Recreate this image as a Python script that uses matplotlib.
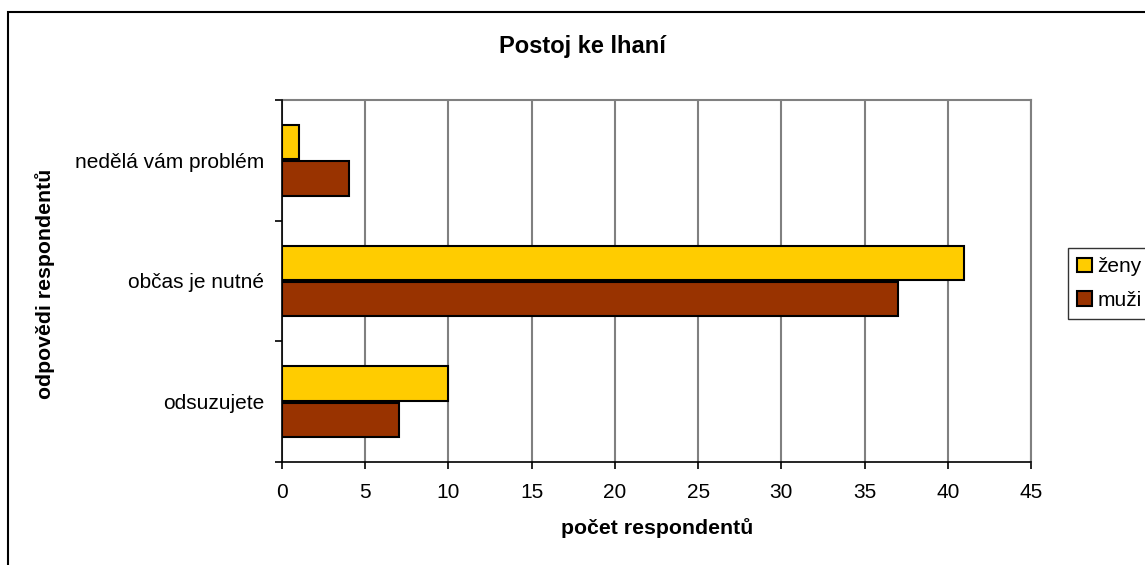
import numpy as np
import matplotlib
matplotlib.use('agg')
import matplotlib.pyplot as plt
from matplotlib.patches import Rectangle

categories = ['odsuzujete', 'občas je nutné', 'nedělá vám problém']
zeny = [10, 41, 1]
muzi = [7, 37, 4]
xticks = [0, 5, 10, 15, 20, 25, 30, 35, 40, 45]

plt.rcParams['font.family'] = ['Liberation Sans', 'DejaVu Sans']

W, H = 1145, 565
fig = plt.figure(figsize=(W / 100, H / 100), dpi=100)
ax = fig.add_axes([282 / W, (H - 462) / H, 749 / W, 362 / H])

y = np.arange(len(categories))
bh = 0.285
off = 0.15
ax.barh(y + off, zeny, height=bh, color='#FFCC00', edgecolor='black',
        linewidth=1.5, label='ženy', zorder=3)
ax.barh(y - off, muzi, height=bh, color='#993300', edgecolor='black',
        linewidth=1.5, label='muži', zorder=3)

ax.set_xlim(0, 45)
ax.set_ylim(-0.5, len(categories) - 0.5)
ax.set_xticks(xticks)
ax.set_xticklabels([str(t) for t in xticks], fontsize=15)
ax.set_yticks(y)
ax.set_yticklabels(categories, fontsize=15)
ax.set_yticks(np.arange(len(categories) + 1) - 0.5, minor=True)
ax.tick_params(axis='y', which='major', length=0, pad=13)
ax.tick_params(axis='y', which='minor', length=5, width=1.2, direction='out')
ax.tick_params(axis='x', length=5, width=1.2, direction='out', pad=10)

ax.grid(axis='x', color='#808080', linewidth=1.5, zorder=0)
for side in ['top', 'right']:
    ax.spines[side].set_color('#808080')
    ax.spines[side].set_linewidth(1.5)
for side in ['left', 'bottom']:
    ax.spines[side].set_color('black')
    ax.spines[side].set_linewidth(1.2)
    ax.spines[side].set_zorder(4)

fig.text(582 / W, 1 - 47 / H, 'Postoj ke lhaní', ha='center', va='center',
         fontsize=17, fontweight='bold')
fig.text(657 / W, 1 - 528 / H, 'počet respondentů', ha='center', va='center',
         fontsize=15.3, fontweight='bold')
fig.text(45 / W, 1 - 284 / H, 'odpovědi respondentů', ha='center', va='center',
         rotation=90, fontsize=15.3, fontweight='bold')

leg = fig.legend(loc='upper left', bbox_to_anchor=(1068 / W, 1 - 248 / H),
                 fontsize=15, frameon=True, fancybox=False,
                 handlelength=0.7, handleheight=0.7, handletextpad=0.25,
                 borderpad=0.45, labelspacing=0.7, borderaxespad=0)
leg.get_frame().set_edgecolor('black')
leg.get_frame().set_linewidth(1.0)

fig.patches.append(Rectangle((8 / W, -0.1), 1.2, (H - 12) / H + 0.1,
                             transform=fig.transFigure, fill=False,
                             edgecolor='black', linewidth=1.5))

plt.savefig('out.png', dpi=100)
plt.close()
